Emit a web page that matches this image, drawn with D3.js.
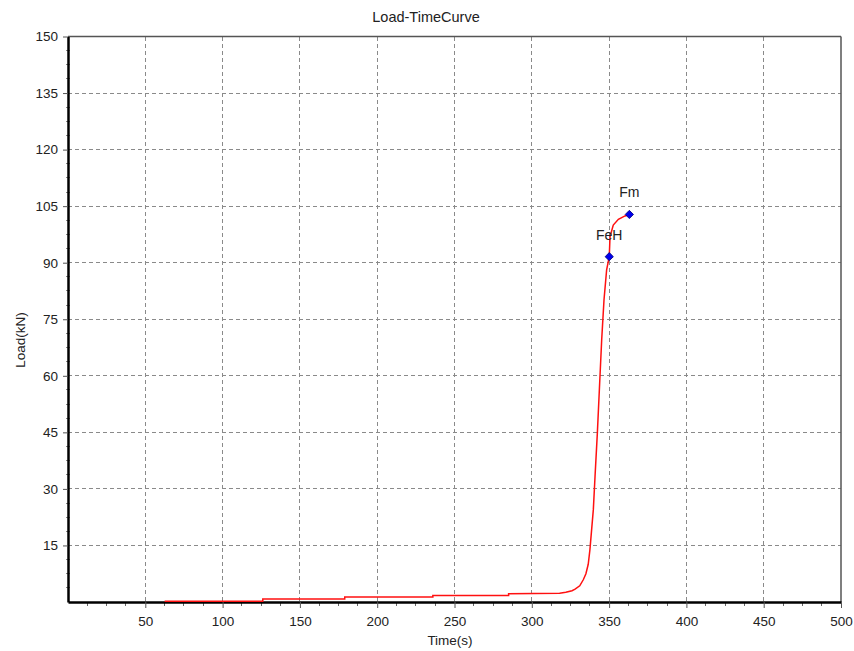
<!DOCTYPE html>
<html>
<head>
<meta charset="utf-8">
<script src="https://cdn.jsdelivr.net/npm/d3@7"></script>
<style>
  html, body { margin: 0; padding: 0; background: #fff; }
  svg { display: block; }
  text { font-family: "Liberation Sans", Arial, sans-serif; fill: #222; }
</style>
</head>
<body>
<svg id="chart" width="854" height="651"></svg>
<script>
// ---- data ----
const timeS = [62.5, 126, 126, 179, 179, 236, 236, 285, 285, 318, 322, 326, 328, 331, 333.3, 335, 336.5, 337.6,
               339.8, 340.9, 342.4, 343.7, 345.2, 346.7, 348.4, 350.1, 350.6, 352.7, 356, 360.3, 363.1];
const loadKN = [0.2, 0.2, 0.8, 0.8, 1.3, 1.3, 1.75, 1.75, 2.2, 2.3, 2.6, 3.0, 3.4, 4.3, 5.9, 7.5, 10, 13.9,
                24.5, 33.3, 44.8, 56.3, 69.5, 80.1, 88.1, 91.6, 96.9, 100, 101.5, 102.4, 102.8];
const markerNames = ["FeH", "Fm"];
const markerTime = [350.1, 363.1];
const markerLoad = [91.6, 102.8];
const xTicks = [50, 100, 150, 200, 250, 300, 350, 400, 450, 500];
const yTicks = [15, 30, 45, 60, 75, 90, 105, 120, 135, 150];
const xMinorStep = 12.5;
const yMinorStep = 3.75;

// ---- layout ----
const svg = d3.select("#chart");
const L = 68, R = 841, T = 36.5, B = 602;
const x = d3.scaleLinear().domain([0, 500]).range([L, R]);
const y = d3.scaleLinear().domain([0, 150]).range([B, T]);

// grid
const grid = svg.append("g");
grid.selectAll("line.vg").data(xTicks.filter(d => d < 500)).join("line")
  .attr("x1", d => x(d)).attr("x2", d => x(d)).attr("y1", T).attr("y2", B)
  .attr("stroke", "#8a8a8a").attr("stroke-width", 1).attr("stroke-dasharray", "4,3").attr("shape-rendering", "crispEdges");
grid.selectAll("line.hg").data(yTicks.filter(d => d < 150)).join("line")
  .attr("x1", L).attr("x2", R).attr("y1", d => y(d)).attr("y2", d => y(d))
  .attr("stroke", "#8a8a8a").attr("stroke-width", 1).attr("stroke-dasharray", "4,3").attr("shape-rendering", "crispEdges");

// minor ticks
const xMinor = d3.range(xMinorStep, 500, xMinorStep).filter(v => Math.abs(v % 50) > 1e-6);
const yMinor = d3.range(yMinorStep, 150, yMinorStep).filter(v => Math.abs(v % 15) > 1e-6);
svg.append("g").selectAll("line").data(xMinor).join("line")
  .attr("x1", d => x(d)).attr("x2", d => x(d)).attr("y1", B).attr("y2", B + 4)
  .attr("stroke", "#666").attr("shape-rendering", "crispEdges");
svg.append("g").selectAll("line").data(yMinor).join("line")
  .attr("x1", L - 2).attr("x2", L + 2).attr("y1", d => y(d)).attr("y2", d => y(d))
  .attr("stroke", "#888").attr("shape-rendering", "crispEdges");

// frame top/right
svg.append("line").attr("x1", L).attr("x2", R).attr("y1", T).attr("y2", T).attr("stroke", "#555").attr("stroke-width", 1.5);
svg.append("line").attr("x1", R).attr("x2", R).attr("y1", T).attr("y2", B).attr("stroke", "#555").attr("stroke-width", 1.5);

// axes
const xAxis = svg.append("g").attr("transform", `translate(0,${B})`)
  .call(d3.axisBottom(x).tickValues(xTicks).tickSize(6).tickPadding(8).tickSizeOuter(0));
const yAxis = svg.append("g").attr("transform", `translate(${L},0)`)
  .call(d3.axisLeft(y).tickValues(yTicks).tickSize(5).tickPadding(5).tickSizeOuter(0));
[xAxis, yAxis].forEach(a => {
  a.select(".domain").attr("stroke", "#000").attr("stroke-width", 2.5);
  a.selectAll(".tick line").attr("stroke", "#555");
  a.selectAll(".tick text").attr("font-size", 13.5).attr("font-family", "Liberation Sans, Arial, sans-serif").attr("fill", "#222");
});

// curve
const pts = timeS.map((t, i) => [t, loadKN[i]]);
svg.append("path").datum(pts)
  .attr("d", d3.line().x(d => x(d[0])).y(d => y(d[1])))
  .attr("fill", "none").attr("stroke", "#ff1010").attr("stroke-width", 1.5);

// markers
const sym = d3.symbol().type(d3.symbolSquare).size(34);
const mk = svg.append("g");
markerNames.forEach((n, i) => {
  mk.append("path").attr("d", sym)
    .attr("transform", `translate(${x(markerTime[i])},${y(markerLoad[i])}) rotate(45)`)
    .attr("fill", "#0000ee").attr("stroke", "#000080").attr("stroke-width", 0.8);
});
mk.append("text").attr("x", x(markerTime[0])).attr("y", y(markerLoad[0]) - 17)
  .attr("text-anchor", "middle").attr("font-size", 14).text(markerNames[0]);
mk.append("text").attr("x", x(markerTime[1])).attr("y", y(markerLoad[1]) - 17)
  .attr("text-anchor", "middle").attr("font-size", 14).text(markerNames[1]);

// titles
svg.append("text").attr("x", 426).attr("y", 22).attr("text-anchor", "middle").attr("font-size", 14.5).text("Load-TimeCurve");
svg.append("text").attr("x", 450).attr("y", 645).attr("text-anchor", "middle").attr("font-size", 13.5).text("Time(s)");
svg.append("text").attr("transform", "translate(25,340) rotate(-90)").attr("text-anchor", "middle").attr("font-size", 13.5).text("Load(kN)");
</script>
</body>
</html>
